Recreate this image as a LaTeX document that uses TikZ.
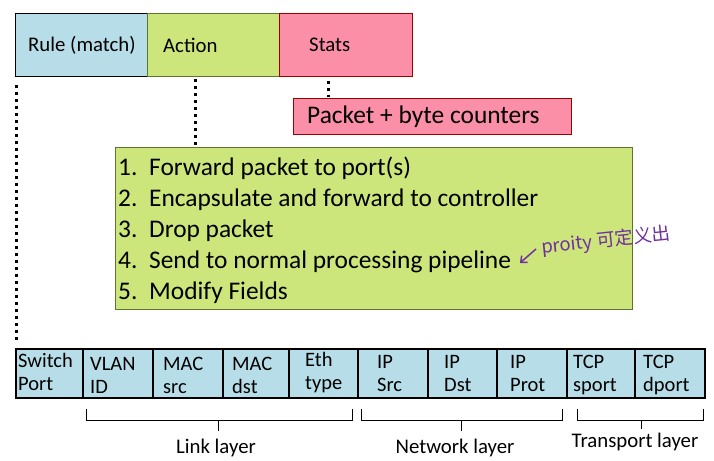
\documentclass[tikz,border=0pt]{standalone}
\usepackage{fontspec}
\setmainfont{Carlito}
\newfontfamily\cjk{Noto Sans CJK SC}
\usetikzlibrary{arrows.meta}
\definecolor{ruleblue}{HTML}{B7DEE8}
\definecolor{actgreen}{HTML}{CDE67B}
\definecolor{statpink}{HTML}{FB8FA8}
\definecolor{pinkborder}{HTML}{990000}
\definecolor{greenborder}{HTML}{5E7530}
\definecolor{annot}{HTML}{7030A0}
\newcommand\cellpair[2]{\begin{tabular}[t]{@{}l@{}}#1\\#2\end{tabular}}
\begin{document}
\begin{tikzpicture}[x=1pt,y=-1pt,
  box/.style={draw, line width=0.8pt, inner sep=0pt, anchor=north west},
  toptext/.style={inner sep=0pt, anchor=west, font=\fontsize{20.8}{24}\selectfont},
  bigtext/.style={inner sep=0pt, anchor=base west, font=\fontsize{25.4}{30}\selectfont},
  cell/.style={draw, line width=1.5pt, fill=ruleblue, inner sep=0pt, anchor=north west, minimum height=49pt},
  celltext/.style={inner sep=0pt, anchor=base west, font=\fontsize{20.5}{23}\selectfont},
  layertext/.style={inner sep=0pt, font=\fontsize{20.8}{24}\selectfont},
  dotline/.style={line width=3pt, dash pattern=on 3pt off 4pt},
  bracket/.style={line width=1pt}
]
\useasboundingbox (0,0) rectangle (714,460);

% top boxes
\node[box, fill=ruleblue, minimum width=132pt, minimum height=63pt] (rule) at (15,13) {};
\node[box, fill=actgreen, draw=greenborder, minimum width=132pt, minimum height=63pt] (act) at (147,13) {};
\node[box, fill=statpink, draw=pinkborder, minimum width=133pt, minimum height=63pt] (stats) at (279,13) {};
\node[toptext] (rulet) at (28,45) {Rule (match)};
\node[toptext] (actt) at (163,45) {Action};
\node[toptext] (statst) at (309,45) {Stats};

% packet counters
\node[box, fill=statpink, draw=pinkborder, minimum width=278pt, minimum height=36pt] (pkt) at (293,98) {};
\node[inner sep=0pt, anchor=west, font=\fontsize{25.4}{30}\selectfont] (pktt) at (307,117) {Packet + byte counters};

% action list
\node[box, fill=actgreen, draw=greenborder, minimum width=517pt, minimum height=162pt] (list) at (115,147) {};
\node[bigtext] (l1) at (118,175) {\makebox[31pt][l]{1.}Forward packet to port(s)};
\node[bigtext] (l2) at (118,206) {\makebox[31pt][l]{2.}Encapsulate and forward to controller};
\node[bigtext] (l3) at (118,237) {\makebox[31pt][l]{3.}Drop packet};
\node[bigtext] (l4) at (118,268) {\makebox[31pt][l]{4.}Send to normal processing pipeline};
\node[bigtext] (l5) at (118,299) {\makebox[31pt][l]{5.}Modify Fields};

% annotation
\coordinate (arrS) at (536,249);
\coordinate (arrE) at (520,263);
\draw[annot, line width=1.5pt, -{Straight Barb[length=5pt,width=9pt]}] (arrS) -- (arrE);
\node[inner sep=0pt, text=annot, rotate=6, font=\cjk\fontsize{18.5}{22}\selectfont] (note) at (606,241) {proity 可定义出};

% header fields
\node[cell, minimum width=67pt] (c1) at (15,348) {};
\node[cell, minimum width=70pt] (c2) at (82,348) {};
\node[cell, minimum width=70pt] (c3) at (152,348) {};
\node[cell, minimum width=68pt] (c4) at (222,348) {};
\node[cell, minimum width=69pt] (c5) at (288,348) {};
\node[cell, minimum width=70pt] (c6) at (357,348) {};
\node[cell, minimum width=69pt] (c7) at (427,348) {};
\node[cell, minimum width=70pt] (c8) at (496,348) {};
\node[cell, minimum width=68pt] (c9) at (566,348) {};
\node[cell, minimum width=70pt] (c10) at (634,348) {};

\node[celltext] (t1) at (18,367) {\cellpair{Switch}{Port}};
\node[celltext] (t2) at (90,370) {\cellpair{VLAN}{ID}};
\node[celltext] (t3) at (163,370) {\cellpair{MAC}{src}};
\node[celltext] (t4) at (232,370) {\cellpair{MAC}{dst}};
\node[celltext] (t5) at (305,366) {\cellpair{Eth}{type}};
\node[celltext] (t6) at (377,368) {\cellpair{IP}{Src}};
\node[celltext] (t7) at (444,368) {\cellpair{IP}{Dst}};
\node[celltext] (t8) at (510,368) {\cellpair{IP}{Prot}};
\node[celltext] (t9) at (573,368) {\cellpair{TCP}{sport}};
\node[celltext] (t10) at (643,368) {\cellpair{TCP}{dport}};

% dotted connectors
\draw[dotline] ([xshift=1.5pt,yshift=-8pt]rule.south west) -- ([xshift=1.5pt,yshift=5pt]c1.north west);
\draw[dotline] ([xshift=48pt,yshift=-2pt]act.south west) -- ([xshift=80pt,yshift=2pt]list.north west);
\draw[dotline] ([xshift=49pt,yshift=-4pt]stats.south west) -- ([xshift=35pt,yshift=1pt]pkt.north west);

% layer brackets
\draw[bracket] (86,409) -- (86,420) -- (352,420) -- (352,409);
\draw[bracket] (218,420) -- (218,431);
\draw[bracket] (361,409) -- (361,420) -- (562,420) -- (562,409);
\draw[bracket] (461,420) -- (461,431);
\draw[bracket] (577,409) -- (577,420) -- (703,420) -- (703,409);
\draw[bracket] (641,420) -- (641,429);

\node[layertext] (link) at (216,448) {Link layer};
\node[layertext] (net) at (455,448) {Network layer};
\node[layertext] (trans) at (635,442) {Transport layer};
\end{tikzpicture}
\end{document}
